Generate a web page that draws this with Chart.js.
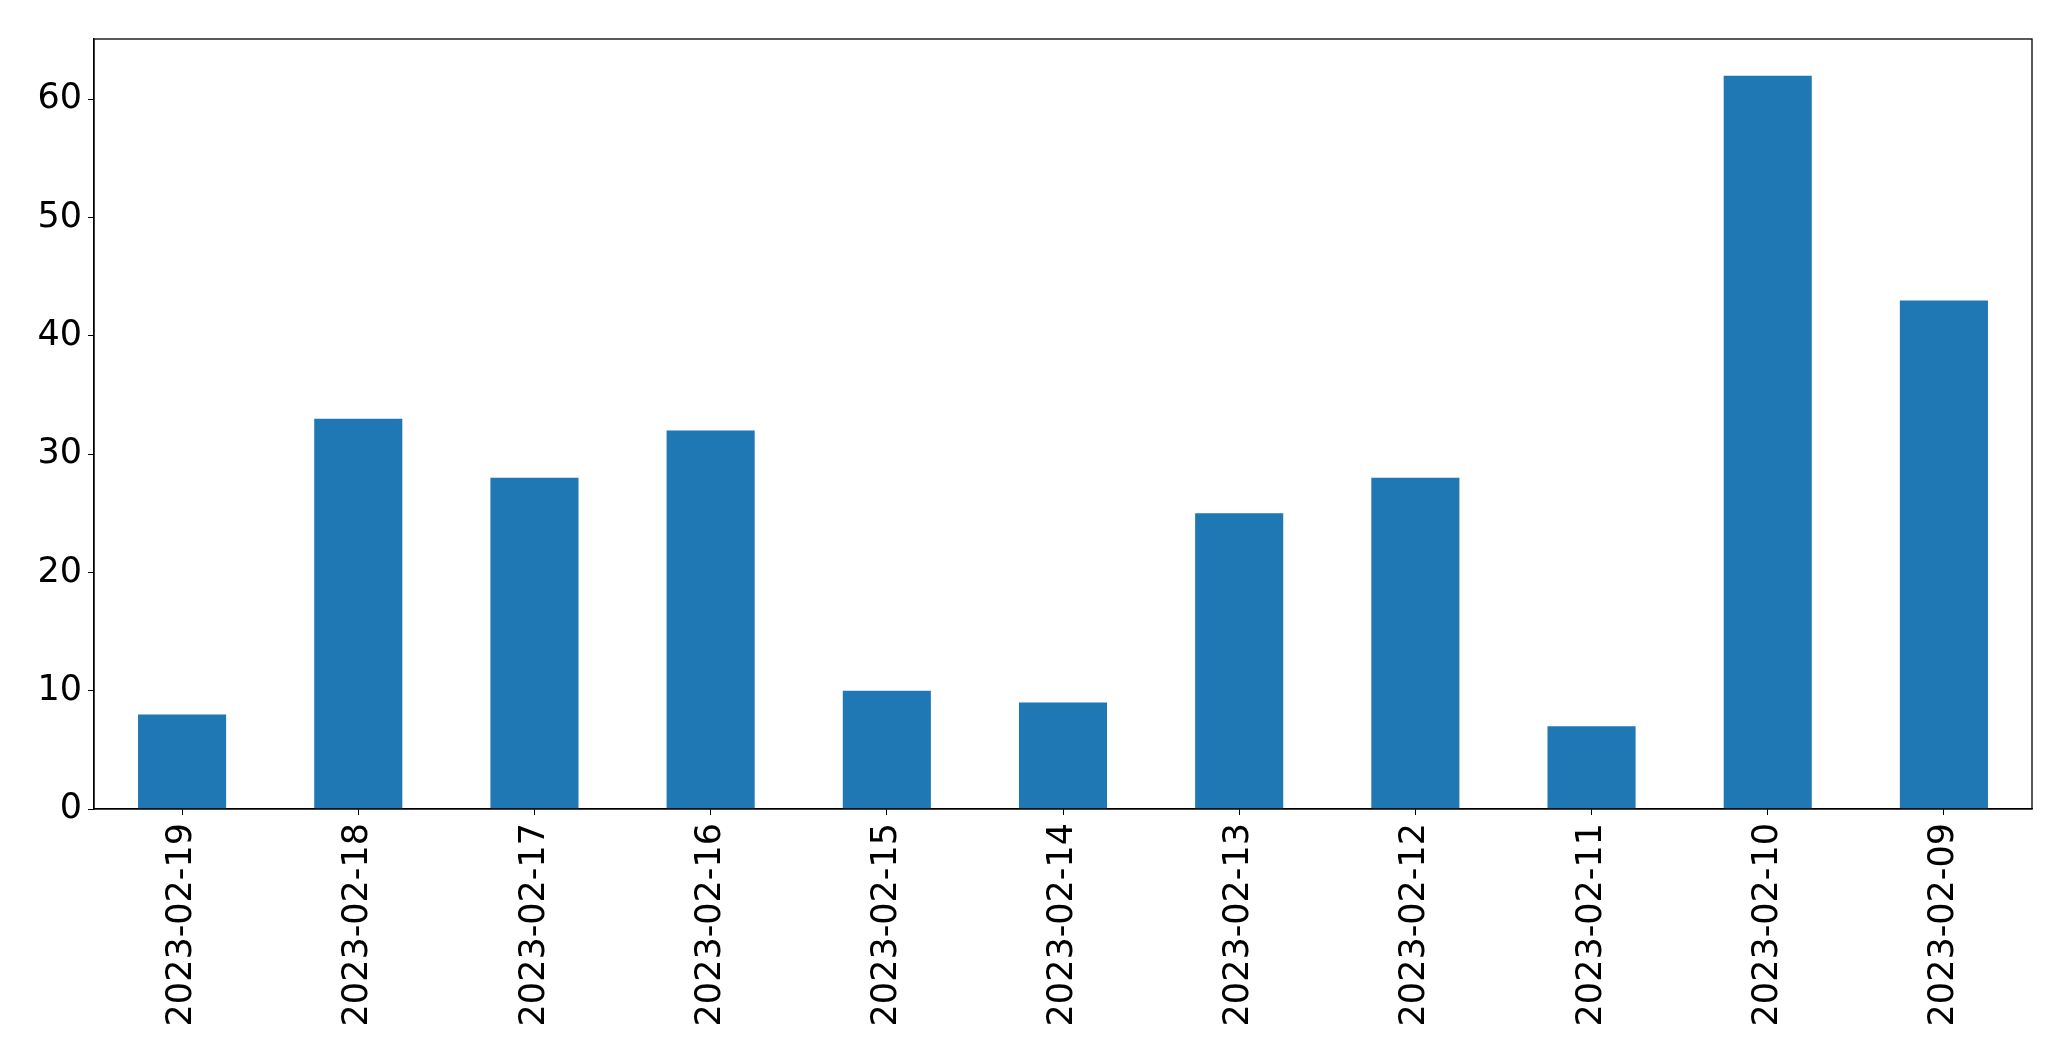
<!DOCTYPE html>
<html>
<head>
<meta charset="utf-8">
<script src="https://cdn.jsdelivr.net/npm/chart.js@4/dist/chart.umd.min.js"></script>
<style>
  html, body { margin: 0; padding: 0; background: #fff; }
  #wrap { width: 2071px; height: 1061px; }
</style>
</head>
<body>
<div id="wrap"><canvas id="chart" width="2071" height="1061"></canvas></div>
<script>
  "use strict";

  var dates = ['2023-02-19', '2023-02-18', '2023-02-17', '2023-02-16', '2023-02-15', '2023-02-14',
               '2023-02-13', '2023-02-12', '2023-02-11', '2023-02-10', '2023-02-09'];
  var counts = [8, 33, 28, 32, 10, 9, 25, 28, 7, 62, 43];
  var yMin = 0;
  var yMax = 65.1;
  var yStep = 10;

  // Draw the full box round the plot area, like matplotlib's spines.
  var frame = {
    id: 'frame',
    afterDraw: function (chart) {
      var a = chart.chartArea, c = chart.ctx;
      c.save();
      c.strokeStyle = '#000';
      c.lineWidth = 1.3;
      c.strokeRect(a.left, a.top, a.right - a.left, a.bottom - a.top);
      c.restore();
    }
  };

  var font = { family: 'DejaVu Sans', size: 35 };

  new Chart(document.getElementById('chart').getContext('2d'), {
    type: 'bar',
    data: {
      labels: dates,
      datasets: [{
        data: counts,
        backgroundColor: '#1f77b4',
        borderWidth: 0,
        barPercentage: 0.5,
        categoryPercentage: 1.0
      }]
    },
    options: {
      responsive: false,
      animation: false,
      layout: { padding: { top: 39, right: 39, left: 0, bottom: 0 } },
      plugins: { legend: { display: false }, tooltip: { enabled: false } },
      scales: {
        x: {
          grid: { display: true, offset: false, drawOnChartArea: false, drawTicks: true, tickLength: 6, color: '#000' },
          border: { display: true, color: '#000', width: 1.3 },
          ticks: { color: '#000', font: font, minRotation: 90, maxRotation: 90, padding: 8, autoSkip: false },
          afterFit: function (s) { s.height = 252; }
        },
        y: {
          min: yMin,
          max: yMax,
          grid: { display: true, drawOnChartArea: false, drawTicks: true, tickLength: 6, color: '#000' },
          border: { display: true, color: '#000', width: 1.3 },
          ticks: { color: '#000', font: font, stepSize: yStep, includeBounds: false, padding: 6 },
          afterFit: function (s) { s.width = 94; }
        }
      }
    },
    plugins: [frame]
  });
</script>
</body>
</html>
